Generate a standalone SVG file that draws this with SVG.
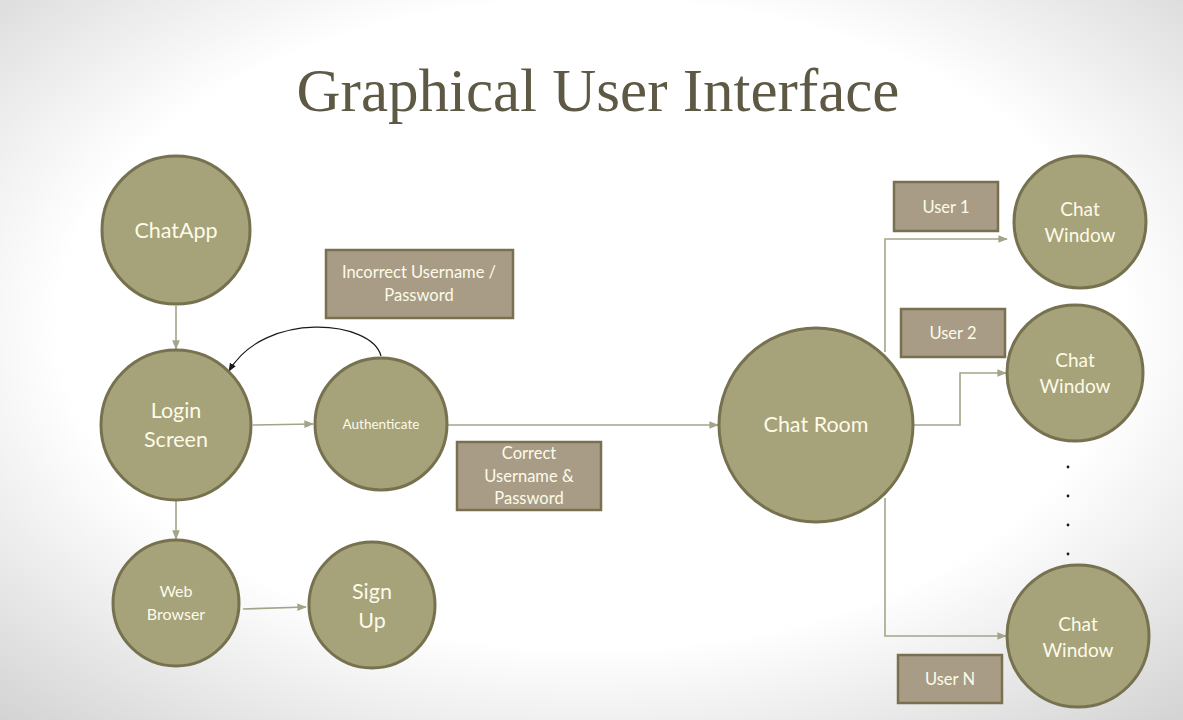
<svg xmlns="http://www.w3.org/2000/svg" width="1183" height="720" viewBox="0 0 1183 720">
  <defs>
    <radialGradient id="bg" cx="50%" cy="45%" r="75%">
      <stop offset="0" stop-color="#ffffff"/>
      <stop offset="0.6" stop-color="#ffffff"/>
      <stop offset="1" stop-color="#d2d2d2"/>
    </radialGradient>
    <marker id="arr" viewBox="0 0 10 10" refX="9" refY="5" markerWidth="6" markerHeight="6" orient="auto">
      <path d="M0,1 L10,5 L0,9 z" fill="#a4a48a"/>
    </marker>
    <marker id="arrDark" viewBox="0 0 10 10" refX="9" refY="5" markerWidth="7" markerHeight="7" orient="auto">
      <path d="M0,1 L10,5 L0,9 z" fill="#1a1a1a"/>
    </marker>
  </defs>
  <style>
    .node { fill: #a6a27a; stroke: #76714f; stroke-width: 3; }
    .box { fill: #a89c86; stroke: #78704f; stroke-width: 2.5; }
    .lbl { font-family: Lato, "Liberation Sans", sans-serif; fill: #fdfbe8; text-anchor: middle; }
    .conn { fill: none; stroke: #a4a48a; stroke-width: 1.6; }
    .title { font-family: "Liberation Serif", "DejaVu Serif", serif; fill: #5e5944; text-anchor: middle; }
    .dot { fill: #1a1a1a; }
  </style>

  <rect x="0" y="0" width="1183" height="720" fill="url(#bg)"/>

  <text class="title" x="598" y="111" font-size="61">Graphical User Interface</text>

  <!-- connectors -->
  <g id="connectors">
    <path class="conn" d="M176,306 L176,349" marker-end="url(#arr)"/>
    <path class="conn" d="M253,425 L313,424" marker-end="url(#arr)"/>
    <path class="conn" d="M448,425 L718,425" marker-end="url(#arr)"/>
    <path class="conn" d="M176,501 L176,539" marker-end="url(#arr)"/>
    <path class="conn" d="M243,609 L306,607" marker-end="url(#arr)"/>
    <path class="conn" d="M885,352 L885,239 L1007,239" marker-end="url(#arr)"/>
    <path class="conn" d="M913,425 L960,425 L960,373 L1006,373" marker-end="url(#arr)"/>
    <path class="conn" d="M885,498 L885,636 L1006,636" marker-end="url(#arr)"/>
    <path d="M381,356 C372,320 265,310 229,371" fill="none" stroke="#1a1a1a" stroke-width="1.2" marker-end="url(#arrDark)"/>
  </g>

  <g id="chatapp">
    <circle class="node" cx="176" cy="230" r="74"/>
    <text class="lbl" x="176" y="238" font-size="21.5">ChatApp</text>
  </g>
  <g id="login-screen">
    <circle class="node" cx="176" cy="425" r="75"/>
    <text class="lbl" x="176" y="418" font-size="21.5">Login</text>
    <text class="lbl" x="176" y="447" font-size="21.5">Screen</text>
  </g>
  <g id="authenticate">
    <circle class="node" cx="381" cy="424" r="66"/>
    <text class="lbl" x="381" y="429" font-size="13.5">Authenticate</text>
  </g>
  <g id="web-browser">
    <circle class="node" cx="176" cy="603" r="63"/>
    <text class="lbl" x="176" y="597" font-size="16">Web</text>
    <text class="lbl" x="176" y="620" font-size="16">Browser</text>
  </g>
  <g id="sign-up">
    <circle class="node" cx="372" cy="605" r="63"/>
    <text class="lbl" x="372" y="599" font-size="21.5">Sign</text>
    <text class="lbl" x="372" y="628" font-size="21.5">Up</text>
  </g>
  <g id="chat-room">
    <circle class="node" cx="816" cy="425" r="97"/>
    <text class="lbl" x="816" y="432" font-size="21.5">Chat Room</text>
  </g>
  <g id="chat-window-1">
    <circle class="node" cx="1080" cy="222" r="66"/>
    <text class="lbl" x="1080" y="216" font-size="19">Chat</text>
    <text class="lbl" x="1080" y="242" font-size="19">Window</text>
  </g>
  <g id="chat-window-2">
    <circle class="node" cx="1075" cy="373" r="68"/>
    <text class="lbl" x="1075" y="367" font-size="19">Chat</text>
    <text class="lbl" x="1075" y="393" font-size="19">Window</text>
  </g>
  <g id="chat-window-n">
    <circle class="node" cx="1078" cy="636" r="71"/>
    <text class="lbl" x="1078" y="631" font-size="19">Chat</text>
    <text class="lbl" x="1078" y="657" font-size="19">Window</text>
  </g>

  <g id="label-incorrect">
    <rect class="box" x="326" y="250" width="187" height="68"/>
    <text class="lbl" x="419" y="278" font-size="16.5">Incorrect Username /</text>
    <text class="lbl" x="419" y="301" font-size="16.5">Password</text>
  </g>
  <g id="label-correct">
    <rect class="box" x="457" y="442" width="144" height="68"/>
    <text class="lbl" x="529" y="459" font-size="16.5">Correct</text>
    <text class="lbl" x="529" y="482" font-size="16.5">Username &amp;</text>
    <text class="lbl" x="529" y="504" font-size="16.5">Password</text>
  </g>
  <g id="label-user1">
    <rect class="box" x="894" y="182" width="104" height="49"/>
    <text class="lbl" x="946" y="213" font-size="16.5">User 1</text>
  </g>
  <g id="label-user2">
    <rect class="box" x="901" y="309" width="104" height="48"/>
    <text class="lbl" x="953" y="339" font-size="16.5">User 2</text>
  </g>
  <g id="label-usern">
    <rect class="box" x="898" y="655" width="104" height="48"/>
    <text class="lbl" x="950" y="685" font-size="16.5">User N</text>
  </g>

  <g id="ellipsis">
    <circle class="dot" cx="1068" cy="467" r="1.4"/>
    <circle class="dot" cx="1068" cy="496" r="1.4"/>
    <circle class="dot" cx="1068" cy="525" r="1.4"/>
    <circle class="dot" cx="1068" cy="554" r="1.4"/>
  </g>
</svg>
